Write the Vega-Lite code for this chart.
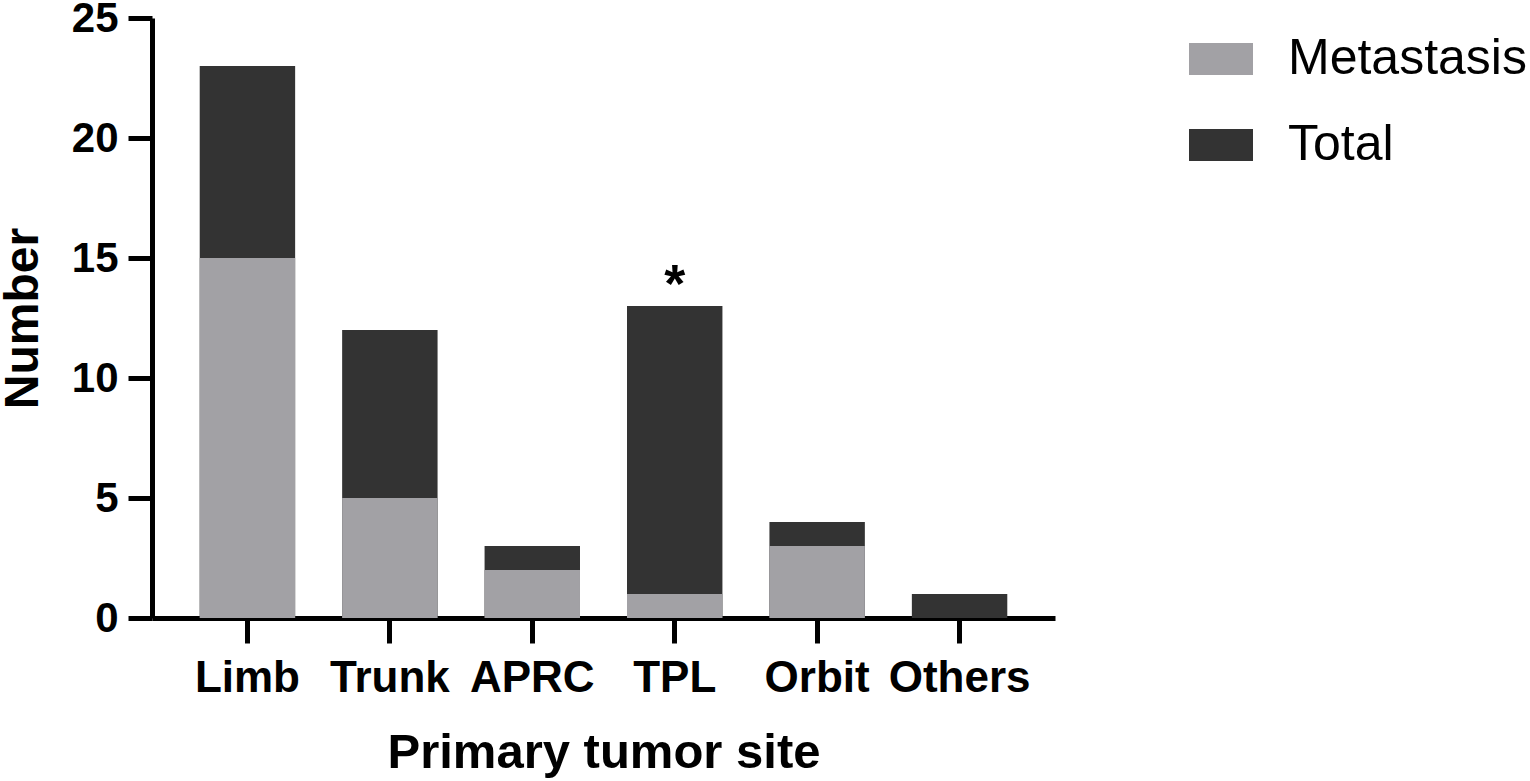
{
  "$schema": "https://vega.github.io/schema/vega-lite/v6.json",
  "width": 903,
  "height": 600,
  "autosize": {"type": "none"},
  "padding": {"left": 152, "top": 18, "right": 475, "bottom": 163},
  "background": "white",
  "config": {
    "view": {"stroke": null},
    "font": "Liberation Sans"
  },
  "data": {
    "values": [
      {"site": "Limb", "metastasis": 15, "total": 23, "note": ""},
      {"site": "Trunk", "metastasis": 5, "total": 12, "note": ""},
      {"site": "APRC", "metastasis": 2, "total": 3, "note": ""},
      {"site": "TPL", "metastasis": 1, "total": 13, "note": "*"},
      {"site": "Orbit", "metastasis": 3, "total": 4, "note": ""},
      {"site": "Others", "metastasis": 0, "total": 1, "note": ""}
    ]
  },
  "encoding": {
    "x": {
      "field": "site",
      "type": "nominal",
      "sort": null,
      "scale": {"paddingInner": 0.33, "paddingOuter": 0.335},
      "axis": {
        "title": "Primary tumor site",
        "labelAngle": 0,
        "labelFont": "Liberation Sans",
        "labelFontSize": 44,
        "labelFontWeight": "bold",
        "labelColor": "black",
        "labelPadding": 13,
        "labelLimit": 0,
        "titleFont": "Liberation Sans",
        "titleFontSize": 49,
        "titleFontWeight": "bold",
        "titleColor": "black",
        "titlePadding": 28,
        "domainColor": "black",
        "domainWidth": 5,
        "tickColor": "black",
        "tickWidth": 5,
        "tickSize": 25
      }
    }
  },
  "layer": [
    {
      "mark": {"type": "bar"},
      "encoding": {
        "y": {
          "field": "total",
          "type": "quantitative",
          "scale": {"domain": [0, 25], "nice": false},
          "axis": {
            "title": "Number",
            "values": [0, 5, 10, 15, 20, 25],
            "grid": false,
            "labelFont": "Liberation Sans",
            "labelFontSize": 42,
            "labelFontWeight": "bold",
            "labelColor": "black",
            "labelPadding": 10,
            "titleFont": "Liberation Sans",
            "titleFontSize": 48,
            "titleFontWeight": "bold",
            "titleColor": "black",
            "titlePadding": 24,
            "domainColor": "black",
            "domainWidth": 5,
            "tickColor": "black",
            "tickWidth": 5,
            "tickSize": 24
          }
        },
        "color": {
          "datum": "Total",
          "type": "nominal",
          "scale": {"domain": ["Metastasis", "Total"], "range": ["#A2A1A5", "#333333"]},
          "legend": {
            "title": null,
            "orient": "none",
            "legendX": 1037,
            "legendY": 9,
            "padding": 0,
            "symbolType": "M-1,-0.5H1V0.5H-1Z",
            "symbolSize": 4096,
            "symbolStrokeWidth": 0,
            "symbolOpacity": 1,
            "labelFont": "Liberation Sans",
            "labelFontSize": 50,
            "labelColor": "black",
            "labelLimit": 0,
            "labelOffset": 35,
            "rowPadding": 29
          }
        }
      }
    },
    {
      "mark": {"type": "bar"},
      "encoding": {
        "y": {"field": "metastasis", "type": "quantitative"},
        "color": {"datum": "Metastasis", "type": "nominal"}
      }
    },
    {
      "mark": {"type": "text", "fontSize": 54, "fontWeight": "bold", "baseline": "alphabetic", "dy": -4, "color": "black"},
      "encoding": {
        "y": {"field": "total", "type": "quantitative"},
        "text": {"field": "note"}
      }
    }
  ]
}
